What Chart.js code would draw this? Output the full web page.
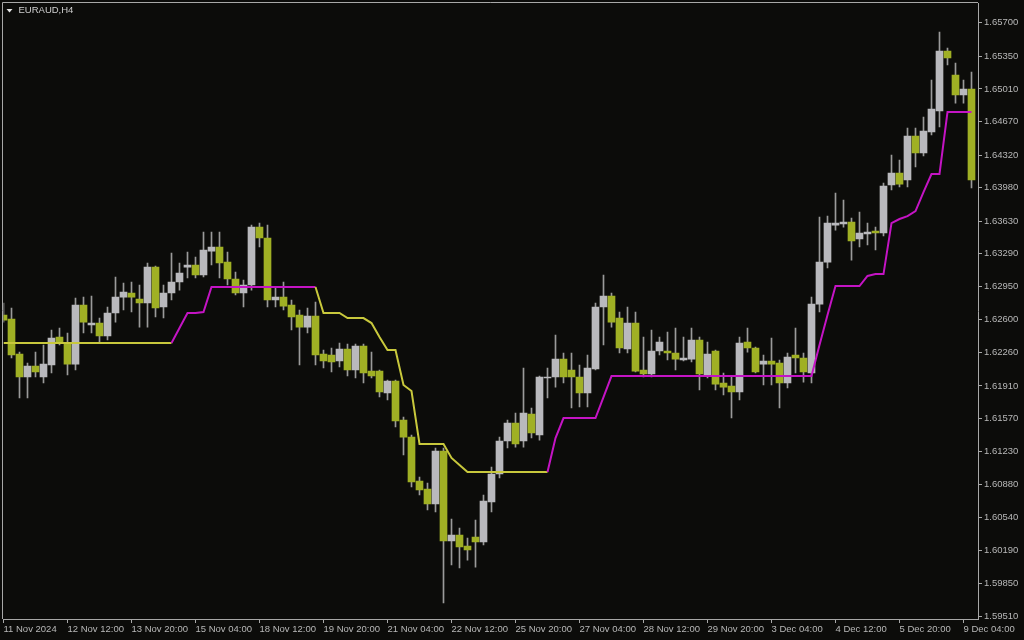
<!DOCTYPE html>
<html>
<head>
<meta charset="utf-8">
<script src="https://cdn.jsdelivr.net/npm/chart.js@4.4.1/dist/chart.umd.min.js"></script>
<style>
html,body{margin:0;padding:0;background:#0c0c0a;}
#wrap{width:1024px;height:640px;}
canvas{display:block;}
</style>
</head>
<body>
<div id="wrap"><canvas id="c" width="1024" height="640"></canvas></div>
<script>
const symbolTitle = 'EURAUD,H4';

const timeLabels = ['11 Nov 2024','12 Nov 12:00','13 Nov 20:00','15 Nov 04:00','18 Nov 12:00','19 Nov 20:00',
  '21 Nov 04:00','22 Nov 12:00','25 Nov 20:00','27 Nov 04:00','28 Nov 12:00','29 Nov 20:00',
  '3 Dec 04:00','4 Dec 12:00','5 Dec 20:00','9 Dec 04:00'];
const barsPerTimeLabel = 8;

const priceTicks = [1.59510,1.59850,1.60190,1.60540,1.60880,1.61230,1.61570,1.61910,1.62260,1.62600,
  1.62950,1.63290,1.63630,1.63980,1.64320,1.64670,1.65010,1.65350,1.65700];

const opens = [1.62651,1.62609,1.62243,1.62004,1.62118,1.62004,1.62129,1.62421,1.62359,1.62139,
  1.62755,1.62546,1.62567,1.62432,1.62672,1.62838,1.62880,1.62817,1.62776,1.63151,
  1.62734,1.62880,1.62995,1.63151,1.63172,1.63068,1.63318,1.63360,1.63203,1.63026,
  1.62880,1.62964,1.63568,1.63454,1.62807,1.62838,1.62755,1.62651,1.62525,1.62640,
  1.62243,1.62233,1.62171,1.62296,1.62077,1.62327,1.62066,1.62066,1.61837,1.61962,
  1.61555,1.61377,1.60919,1.60835,1.60679,1.61232,1.60293,1.60355,1.60240,1.60334,
  1.60282,1.60700,1.60992,1.61336,1.61524,1.61336,1.61618,1.61399,1.61993,1.62004,
  1.62191,1.62077,1.62004,1.61837,1.62087,1.62734,1.62849,1.62619,1.62296,1.62567,
  1.62077,1.62035,1.62275,1.62275,1.62254,1.62181,1.62191,1.62390,1.62025,1.62275,
  1.61941,1.61910,1.61847,1.62369,1.62306,1.62139,1.62171,1.62150,1.61941,1.62233,
  1.62202,1.62046,1.62765,1.63203,1.63589,1.63600,1.63621,1.63444,1.63496,1.63527,
  1.63506,1.64007,1.64132,1.64059,1.64518,1.64341,1.64560,1.64779,1.65405,1.65155,
  1.64946,1.65008];

const highs = [1.62776,1.62724,1.62264,1.62150,1.62264,1.62338,1.62494,1.62515,1.62463,1.62828,
  1.62838,1.62849,1.62619,1.62734,1.63047,1.62985,1.62995,1.62964,1.63193,1.63162,
  1.62964,1.63298,1.63193,1.63308,1.63255,1.63516,1.63516,1.63516,1.63308,1.63099,
  1.63016,1.63589,1.63610,1.63589,1.62943,1.62995,1.62807,1.62703,1.62724,1.62786,
  1.62285,1.62306,1.62359,1.62348,1.62348,1.62348,1.62264,1.62077,1.61972,1.61972,
  1.61586,1.61399,1.60960,1.60898,1.61263,1.61263,1.60522,1.60428,1.60324,1.60512,
  1.60773,1.61065,1.61377,1.61555,1.61628,1.62098,1.61680,1.62014,1.62098,1.62442,
  1.62254,1.62254,1.62129,1.62233,1.62776,1.63068,1.62880,1.62682,1.62734,1.62682,
  1.62421,1.62494,1.62421,1.62473,1.62515,1.62421,1.62515,1.62421,1.62369,1.62285,
  1.62046,1.62004,1.62421,1.62515,1.62317,1.62233,1.62411,1.62181,1.62254,1.62515,
  1.62254,1.62838,1.63673,1.63683,1.63923,1.63850,1.63662,1.63725,1.63610,1.63568,
  1.64028,1.64320,1.64268,1.64602,1.64602,1.64716,1.65102,1.65603,1.65436,1.65280,
  1.65102,1.65186];

const lows = [1.62577,1.62202,1.61785,1.61785,1.62004,1.61941,1.62046,1.62338,1.62025,1.62077,
  1.62463,1.62463,1.62369,1.62390,1.62577,1.62703,1.62682,1.62525,1.62525,1.62630,
  1.62619,1.62807,1.62911,1.63037,1.63037,1.63047,1.63172,1.63037,1.62964,1.62859,
  1.62734,1.62911,1.63360,1.62734,1.62734,1.62703,1.62494,1.62129,1.62463,1.62129,
  1.62098,1.62056,1.62108,1.62014,1.61993,1.61941,1.61993,1.61795,1.61764,1.61482,
  1.61190,1.60856,1.60773,1.60616,1.60595,1.59646,1.60042,1.60011,1.60094,1.60021,
  1.60251,1.60595,1.60950,1.61263,1.61273,1.61273,1.61367,1.61346,1.61785,1.61899,
  1.61941,1.61680,1.61691,1.61691,1.62077,1.62338,1.62525,1.62254,1.62254,1.62056,
  1.62004,1.62004,1.62233,1.62181,1.62077,1.62171,1.62160,1.61868,1.61993,1.61868,
  1.61816,1.61576,1.61764,1.62264,1.62046,1.61920,1.61920,1.61680,1.61889,1.62046,
  1.61951,1.61941,1.62682,1.63141,1.63537,1.63568,1.63224,1.63360,1.63381,1.63329,
  1.63475,1.63955,1.63986,1.63986,1.64195,1.64310,1.64529,1.64612,1.65259,1.64862,
  1.64862,1.63976];

const closes = [1.62598,1.62233,1.62004,1.62118,1.62056,1.62139,1.62411,1.62369,1.62139,1.62755,
  1.62577,1.62567,1.62432,1.62672,1.62838,1.62890,1.62838,1.62776,1.63151,1.62724,
  1.62880,1.62995,1.63089,1.63172,1.63068,1.63329,1.63360,1.63193,1.63026,1.62880,
  1.62964,1.63568,1.63454,1.62807,1.62838,1.62744,1.62630,1.62525,1.62640,1.62233,
  1.62171,1.62160,1.62296,1.62077,1.62327,1.62046,1.62014,1.61847,1.61962,1.61545,
  1.61377,1.60908,1.60825,1.60679,1.61232,1.60293,1.60355,1.60230,1.60199,1.60282,
  1.60710,1.60992,1.61336,1.61524,1.61305,1.61628,1.61420,1.62004,1.62004,1.62191,
  1.62004,1.62004,1.61837,1.62098,1.62734,1.62849,1.62577,1.62306,1.62567,1.62066,
  1.62035,1.62275,1.62369,1.62254,1.62191,1.62202,1.62390,1.62035,1.62243,1.61930,
  1.61899,1.61847,1.62359,1.62306,1.62056,1.62171,1.62139,1.61941,1.62212,1.62202,
  1.62056,1.62765,1.63203,1.63610,1.63610,1.63621,1.63423,1.63506,1.63516,1.63506,
  1.63996,1.64132,1.64017,1.64518,1.64341,1.64570,1.64800,1.65405,1.65332,1.64946,
  1.65008,1.64059];

const stopLine = [1.62359,1.62359,1.62359,1.62359,1.62359,1.62359,1.62359,1.62359,1.62359,1.62359,
  1.62359,1.62359,1.62359,1.62359,1.62359,1.62359,1.62359,1.62359,1.62359,1.62359,
  1.62359,1.62359,1.62515,1.62672,1.62672,1.62682,1.62943,1.62943,1.62943,1.62943,
  1.62943,1.62943,1.62943,1.62943,1.62943,1.62943,1.62943,1.62943,1.62943,1.62943,
  1.62672,1.62672,1.62672,1.62619,1.62619,1.62619,1.62567,1.62421,1.62285,1.62285,
  1.61920,1.61858,1.61305,1.61305,1.61305,1.61305,1.61159,1.61086,1.61013,1.61013,
  1.61013,1.61013,1.61013,1.61013,1.61013,1.61013,1.61013,1.61013,1.61013,1.61367,
  1.61576,1.61576,1.61576,1.61576,1.61576,1.61795,1.62014,1.62014,1.62014,1.62014,
  1.62014,1.62014,1.62014,1.62014,1.62014,1.62014,1.62014,1.62014,1.62014,1.62014,
  1.62014,1.62014,1.62014,1.62014,1.62014,1.62014,1.62014,1.62014,1.62014,1.62014,
  1.62014,1.62014,1.62338,1.62651,1.62953,1.62953,1.62953,1.62953,1.63058,1.63078,
  1.63078,1.63610,1.63652,1.63683,1.63735,1.63933,1.64122,1.64122,1.64768,1.64768,
  1.64768,1.64768];

// 1 = up-trend (line below price, magenta), 0 = down-trend (line above price, yellow)
const stopTrendUp = [0,0,0,0,0,0,0,0,0,0, 0,0,0,0,0,0,0,0,0,0,
  0,0,1,1,1,1,1,1,1,1, 1,1,1,1,1,1,1,1,1,1,
  0,0,0,0,0,0,0,0,0,0, 0,0,0,0,0,0,0,0,0,0,
  0,0,0,0,0,0,0,0,0,1, 1,1,1,1,1,1,1,1,1,1,
  1,1,1,1,1,1,1,1,1,1, 1,1,1,1,1,1,1,1,1,1,
  1,1,1,1,1,1,1,1,1,1, 1,1,1,1,1,1,1,1,1,1,
  1,1];

const BG = '#0c0c0a';
const BULL = '#b9b9bd';
const BEAR = '#a0b024';
const WICK = '#9a9a9a';
const YEL = '#c8c83c';
const MAG = '#c414c4';
const AXIS = '#a8a8a8';
const TXT = '#b8b8b8';
const FONT = {family: '"Liberation Sans", Arial, sans-serif', size: 9.5};

const idx = opens.map((_, i) => i);
const wickData = idx.map(i => ({x: i, y: [lows[i], highs[i]]}));
const bodyData = idx.map(i => ({x: i, y: [opens[i], closes[i]]}));
const bodyColors = idx.map(i => closes[i] >= opens[i] ? BULL : BEAR);
const lineData = idx.map(i => ({x: i, y: stopLine[i]}));

const framePlugin = {
  id: 'frame',
  beforeDraw(chart) {
    const ctx = chart.ctx;
    ctx.save();
    ctx.fillStyle = BG;
    ctx.fillRect(0, 0, chart.width, chart.height);
    ctx.restore();
  },
  afterDraw(chart) {
    const {ctx, chartArea: a} = chart;
    ctx.save();
    ctx.strokeStyle = AXIS;
    ctx.lineWidth = 1;
    ctx.beginPath();
    ctx.moveTo(Math.floor(a.left) - 0.5, a.bottom);
    ctx.lineTo(Math.floor(a.left) - 0.5, a.top - 0.5);
    ctx.lineTo(a.right, a.top - 0.5);
    ctx.stroke();
    // title with small drop-down triangle
    const tx = a.left + 3, ty = a.top + 6;
    ctx.fillStyle = '#e6e6e6';
    ctx.beginPath();
    ctx.moveTo(tx, ty);
    ctx.lineTo(tx + 6, ty);
    ctx.lineTo(tx + 3, ty + 3.5);
    ctx.closePath();
    ctx.fill();
    ctx.fillStyle = '#cfcfcf';
    ctx.font = '9.5px "Liberation Sans", Arial, sans-serif';
    ctx.textBaseline = 'middle';
    ctx.textAlign = 'left';
    ctx.fillText(symbolTitle, tx + 12, ty + 1.5);
    ctx.restore();
  }
};

new Chart(document.getElementById('c'), {
  type: 'bar',
  data: {
    datasets: [
      {
        type: 'line', data: lineData, order: 0, borderWidth: 2, pointRadius: 0, tension: 0,
        fill: false, borderColor: YEL,
        segment: { borderColor: c => stopTrendUp[c.p1DataIndex] ? MAG : YEL }
      },
      {
        type: 'bar', data: bodyData, order: 1, backgroundColor: bodyColors, borderWidth: 0,
        barThickness: 7, grouped: false, minBarLength: 1
      },
      {
        type: 'bar', data: wickData, order: 2, backgroundColor: WICK, borderWidth: 0,
        barThickness: 1, grouped: false
      }
    ]
  },
  options: {
    responsive: false,
    animation: false,
    layout: { padding: { left: 3.5, top: 3, right: 0, bottom: 0 } },
    plugins: { legend: { display: false }, tooltip: { enabled: false } },
    scales: {
      x: {
        type: 'linear', min: 0, max: 121.8125, offset: false,
        grid: { display: true, drawOnChartArea: false, drawTicks: true, tickLength: 4, color: AXIS, offset: false },
        border: { display: true, color: AXIS },
        afterBuildTicks: s => { s.ticks = timeLabels.map((_, k) => ({ value: k * barsPerTimeLabel })); },
        ticks: {
          autoSkip: false, maxRotation: 0, minRotation: 0, align: 'start', padding: 1,
          color: TXT, font: FONT,
          callback: (v, k) => timeLabels[k]
        },
        afterFit: s => { s.height = 21; s.paddingLeft = 0; s.paddingRight = 0; s.paddingTop = 0; s.paddingBottom = 0; }
      },
      y: {
        type: 'linear', position: 'right', min: 1.59479, max: 1.65906,
        grid: { display: true, drawOnChartArea: false, drawTicks: true, tickLength: 4, color: AXIS },
        border: { display: true, color: AXIS },
        afterBuildTicks: s => { s.ticks = priceTicks.map(v => ({ value: v })); },
        ticks: {
          autoSkip: false, padding: 2, color: TXT, font: FONT,
          callback: v => Number(v).toFixed(5)
        },
        afterFit: s => { s.width = 46; s.paddingLeft = 0; s.paddingRight = 0; s.paddingTop = 0; s.paddingBottom = 0; }
      }
    }
  },
  plugins: [framePlugin]
});
</script>
</body>
</html>
